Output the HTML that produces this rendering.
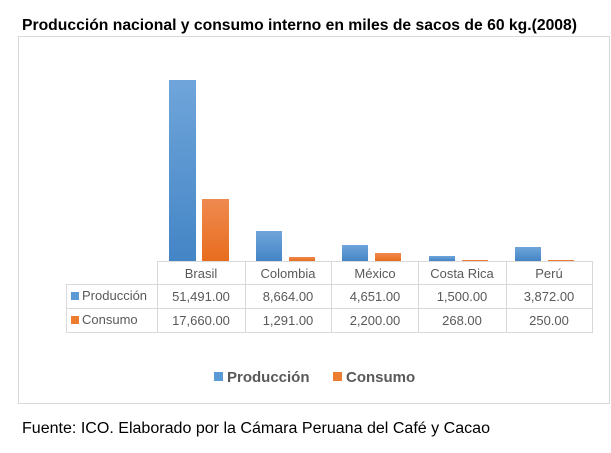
<!DOCTYPE html>
<html><head><meta charset="utf-8"><style>
html,body{margin:0;padding:0;background:#fff;}
svg{display:block;font-family:"Liberation Sans",sans-serif;}
</style></head><body>
<svg width="611" height="453" viewBox="0 0 611 453">
<defs>
<linearGradient id="b" x1="0" y1="0" x2="0" y2="1"><stop offset="0" stop-color="#6fa5da"/><stop offset="1" stop-color="#4485c6"/></linearGradient>
<linearGradient id="o" x1="0" y1="0" x2="0" y2="1"><stop offset="0" stop-color="#ef8a50"/><stop offset="1" stop-color="#e86d1e"/></linearGradient>
</defs>
<text x="22" y="30" font-size="15.5" font-weight="bold" fill="#000" textLength="555" lengthAdjust="spacingAndGlyphs">Producción nacional y consumo interno en miles de sacos de 60 kg.(2008)</text>
<rect x="18.5" y="36.5" width="591" height="367" fill="#fff" stroke="#d9d9d9"/>
<rect x="169" y="80" width="27" height="181" fill="url(#b)"/>
<rect x="202" y="199" width="27" height="62" fill="url(#o)"/>
<rect x="256" y="231" width="26" height="30" fill="url(#b)"/>
<rect x="289" y="257" width="26" height="4" fill="url(#o)"/>
<rect x="342" y="245" width="26" height="16" fill="url(#b)"/>
<rect x="375" y="253" width="26" height="8" fill="url(#o)"/>
<rect x="429" y="256" width="26" height="5" fill="url(#b)"/>
<rect x="462" y="260" width="26" height="1" fill="url(#o)"/>
<rect x="515" y="247" width="26" height="14" fill="url(#b)"/>
<rect x="548" y="260" width="26" height="1" fill="url(#o)"/>
<g stroke="#d9d9d9" fill="none">
<line x1="157" y1="261.5" x2="593" y2="261.5"/>
<line x1="66" y1="284.5" x2="593" y2="284.5"/>
<line x1="66" y1="308.5" x2="593" y2="308.5"/>
<line x1="66" y1="332.5" x2="593" y2="332.5"/>
<line x1="66.5" y1="284" x2="66.5" y2="333"/>
<line x1="157.5" y1="261" x2="157.5" y2="333"/>
<line x1="245.5" y1="261" x2="245.5" y2="333"/>
<line x1="331.5" y1="261" x2="331.5" y2="333"/>
<line x1="418.5" y1="261" x2="418.5" y2="333"/>
<line x1="506.5" y1="261" x2="506.5" y2="333"/>
<line x1="592.5" y1="261" x2="592.5" y2="333"/>
</g>
<g font-size="13" fill="#595959" text-anchor="middle">
<text x="201" y="278">Brasil</text><text x="288" y="278">Colombia</text><text x="375" y="278">México</text><text x="462" y="278">Costa Rica</text><text x="549" y="278">Perú</text>
<text x="201" y="301">51,491.00</text><text x="288" y="301">8,664.00</text><text x="375" y="301">4,651.00</text><text x="462" y="301">1,500.00</text><text x="549" y="301">3,872.00</text>
<text x="201" y="325">17,660.00</text><text x="288" y="325">1,291.00</text><text x="375" y="325">2,200.00</text><text x="462" y="325">268.00</text><text x="549" y="325">250.00</text>
</g>
<rect x="71" y="292" width="8" height="8" fill="#5b9bd5"/>
<rect x="71" y="316" width="8" height="8" fill="#ed7d31"/>
<g font-size="13" fill="#595959"><text x="82" y="300">Producción</text><text x="82" y="324">Consumo</text></g>
<rect x="214" y="372" width="9" height="9" fill="#5b9bd5"/>
<rect x="333" y="372" width="9" height="9" fill="#ed7d31"/>
<g font-size="15" font-weight="bold" fill="#595959"><text x="227" y="382">Producción</text><text x="346" y="382">Consumo</text></g>
<text x="22" y="433" font-size="15.5" fill="#000" textLength="468" lengthAdjust="spacingAndGlyphs">Fuente: ICO. Elaborado por la Cámara Peruana del Café y Cacao</text>
</svg>
</body></html>
